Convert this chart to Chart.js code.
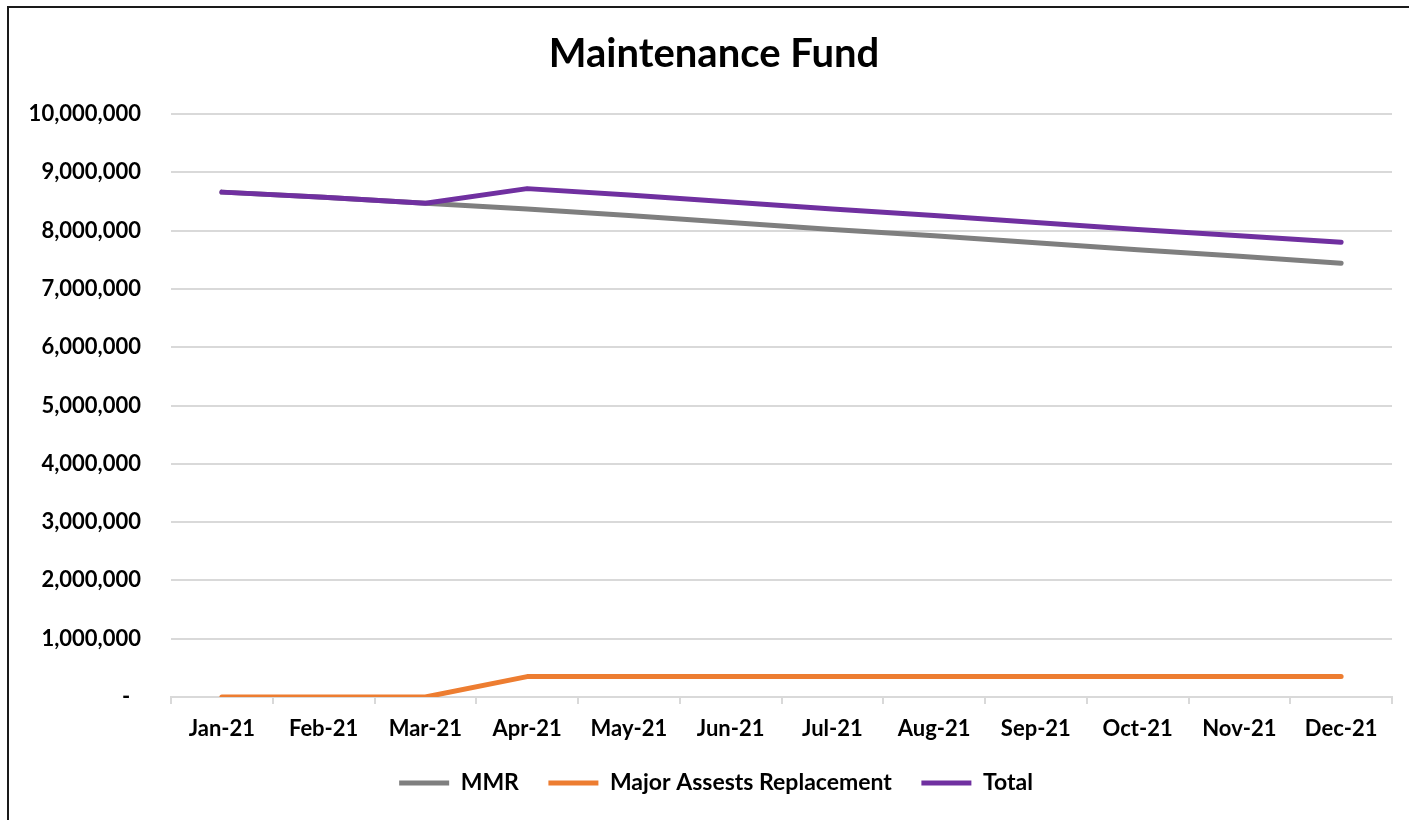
<!DOCTYPE html>
<html>
<head>
<meta charset="utf-8">
<script src="https://cdn.jsdelivr.net/npm/chart.js@4/dist/chart.umd.min.js"></script>
<style>
  html, body { margin: 0; padding: 0; background: #fff; overflow: hidden; }
  #wrap { position: absolute; left: 0; top: 0; width: 1409px; height: 820px; overflow: hidden; }
  #frame { position: absolute; left: 7px; top: 6px; width: 1500px; height: 900px;
           border-left: 2px solid #1a1a1a; border-top: 2px solid #1a1a1a; pointer-events: none; }
  canvas { position: absolute; left: 0; top: 0; }
</style>
</head>
<body>
<div id="wrap"><canvas id="c" width="1409" height="820"></canvas><div id="frame"></div></div>
<script>
const categories = ['Jan-21','Feb-21','Mar-21','Apr-21','May-21','Jun-21','Jul-21','Aug-21','Sep-21','Oct-21','Nov-21','Dec-21'];
const mmr   = [8660000, 8570000, 8470000, 8370000, 8260000, 8140000, 8020000, 7910000, 7790000, 7670000, 7560000, 7440000];
const major = [0, 0, 0, 350000, 350000, 350000, 350000, 350000, 350000, 350000, 350000, 350000];
const total = [8660000, 8570000, 8470000, 8720000, 8610000, 8490000, 8370000, 8260000, 8140000, 8020000, 7910000, 7800000];
const yTicks = [0, 1000000, 2000000, 3000000, 4000000, 5000000, 6000000, 7000000, 8000000, 9000000, 10000000];

const FONT = 'Lato, "Open Sans", sans-serif';

function lineDs(label, data, color, order) {
  return { label, data, borderColor: color, backgroundColor: color, borderWidth: 5,
           borderCapStyle: 'round', borderJoinStyle: 'round', pointRadius: 0, pointHoverRadius: 0,
           tension: 0, fill: false, order };
}

// centre title and legend on the chart frame (which starts at the left border)
const centerShift = {
  id: 'centerShift',
  afterLayout(chart) {
    if (chart.legend) chart.legend.left = 40;
    if (chart.titleBlock) chart.titleBlock.left = 36;
  }
};

new Chart(document.getElementById('c'), {
  type: 'line',
  plugins: [centerShift],
  data: {
    labels: categories,
    datasets: [
      lineDs('MMR', mmr, '#7f7f7f', 2),
      lineDs('Major Assests Replacement', major, '#ed7d31', 1),
      lineDs('Total', total, '#7030a0', 0)
    ]
  },
  options: {
    responsive: false,
    animation: false,
    layout: { padding: { left: 0, right: 17, top: 0, bottom: 15.5 } },
    plugins: {
      title: { display: true, text: 'Maintenance Fund', color: '#000',
               font: { family: FONT, size: 40, weight: 'bold' }, padding: { top: 30, bottom: 36 } },
      legend: { position: 'bottom',
        labels: { color: '#000', font: { family: FONT, size: 23, weight: 'bold' },
                  usePointStyle: true, pointStyle: 'line', pointStyleWidth: 50, boxHeight: 23,
                  padding: 29.5, sort: (a, b) => a.datasetIndex - b.datasetIndex } },
      tooltip: { enabled: false }
    },
    scales: {
      x: {
        offset: true,
        grid: { offset: true, drawOnChartArea: false, color: '#d9d9d9', lineWidth: 2, tickLength: 7 },
        border: { color: '#d9d9d9', width: 2 },
        ticks: { color: '#000', font: { family: FONT, size: 22, weight: 'bold' }, padding: 12, maxRotation: 0 },
        afterFit: s => { s.height = 45; }
      },
      y: {
        min: 0, max: 10000000,
        afterBuildTicks: s => { s.ticks = yTicks.map(v => ({ value: v })); },
        grid: { color: '#d9d9d9', lineWidth: 2, drawTicks: false },
        border: { display: false },
        ticks: { color: '#000', font: { family: FONT, size: 22, weight: 'bold' }, padding: 30,
                 callback: v => v === 0 ? '-  ' : Number(v).toLocaleString('en-US') },
        afterFit: s => { s.width = 171; }
      }
    }
  }
});
</script>
</body>
</html>
